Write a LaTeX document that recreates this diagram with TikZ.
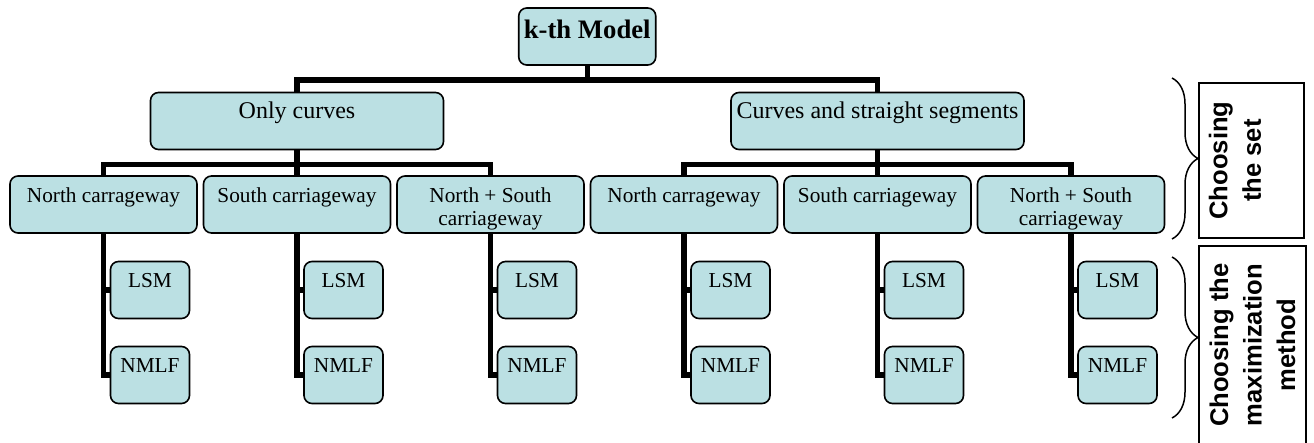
\documentclass[tikz,border=0pt]{standalone}
\usepackage{fontspec}
\setmainfont{Liberation Serif}
\setsansfont{Liberation Sans}
\usepackage{xcolor}
\usepackage{tikz}
\usetikzlibrary{positioning,calc,decorations.pathreplacing}
\definecolor{boxfill}{RGB}{187,224,227}
\newcommand{\rows}[2]{\rule{0pt}{26pt}#1\\#2\rule[-8pt]{0pt}{8pt}}
\tikzstyle{block} = [rectangle, draw, line width=1.6pt, fill=boxfill, rounded corners=8pt,
align=center, inner xsep=2pt, inner ysep=0pt, minimum width=187pt, minimum height=57pt,
font=\fontsize{21.3}{23}\selectfont]
\tikzstyle{topblock} = [block, minimum width=293pt, font=\fontsize{24}{23}\selectfont]
\tikzstyle{modelblock} = [block, minimum width=137pt, text height=30pt, text depth=27pt,
font=\bfseries\fontsize{26.7}{30}\selectfont]
\tikzstyle{leaf} = [block, minimum width=79pt, minimum height=56pt]
\tikzstyle{line} = [draw, line width=5.5pt]
\tikzstyle{stage} = [rectangle, draw, line width=1.6pt, rotate=90, align=center,
font=\sffamily\bfseries\fontsize{25.6}{33.5}\selectfont]
\tikzstyle{brace} = [draw, line width=1.5pt, decorate, decoration={brace, amplitude=26pt}]

\begin{document}
\begin{tikzpicture}[x=1pt, y=1pt, node distance=193.5pt]
	\useasboundingbox (0,0) rectangle (1314,-442);
	
	\node [block] (nc1) at (103.5,-204.5) {\rows{North carrageway}{}};
	\node [block, right of=nc1] (sc1) {\rows{South carriageway}{}};
	\node [block, right of=sc1] (ns1) {\rows{North + South}{carriageway}};
	\node [block, right of=ns1] (nc2) {\rows{North carrageway}{}};
	\node [block, right of=nc2] (sc2) {\rows{South carriageway}{}};
	\node [block, right of=sc2] (ns2) {\rows{North + South}{carriageway}};
	
	
	\node [topblock, above of=sc1, node distance=83.5pt] (only) {\rows{Only curves}{}};
	\node [topblock, above of=sc2, node distance=83.5pt] (curves) {\rows{Curves and straight segments}{}};
	\node [modelblock] (model) at ($(only)!0.5!(curves)+(0,84.5)$) {k-th Model};
	
	
	\node [leaf, below of=nc1, node distance=85.5pt, xshift=46.5pt] (lsm1) {\rows{LSM}{}};
	\node [leaf, below of=sc1, node distance=85.5pt, xshift=46.5pt] (lsm2) {\rows{LSM}{}};
	\node [leaf, below of=ns1, node distance=85.5pt, xshift=46.5pt] (lsm3) {\rows{LSM}{}};
	\node [leaf, below of=nc2, node distance=85.5pt, xshift=46.5pt] (lsm4) {\rows{LSM}{}};
	\node [leaf, below of=sc2, node distance=85.5pt, xshift=46.5pt] (lsm5) {\rows{LSM}{}};
	\node [leaf, below of=ns2, node distance=85.5pt, xshift=46.5pt] (lsm6) {\rows{LSM}{}};
	
	\node [leaf, below of=lsm1, node distance=85pt] (nmlf1) {\rows{NMLF}{}};
	\node [leaf, below of=lsm2, node distance=85pt] (nmlf2) {\rows{NMLF}{}};
	\node [leaf, below of=lsm3, node distance=85pt] (nmlf3) {\rows{NMLF}{}};
	\node [leaf, below of=lsm4, node distance=85pt] (nmlf4) {\rows{NMLF}{}};
	\node [leaf, below of=lsm5, node distance=85pt] (nmlf5) {\rows{NMLF}{}};
	\node [leaf, below of=lsm6, node distance=85pt] (nmlf6) {\rows{NMLF}{}};
	
	
	\path [line] (model.south) -- ++(0,-14) -| (only.north);
	\path [line] (model.south) -- ++(0,-14) -| (curves.north);
	
	\path [line] (only.south) -- ++(0,-14) -| (nc1.north);
	\path [line] (only.south) -- ++(0,-14) -| (sc1.north);
	\path [line] (only.south) -- ++(0,-14) -| (ns1.north);
	\path [line] (curves.south) -- ++(0,-14) -| (nc2.north);
	\path [line] (curves.south) -- ++(0,-14) -| (sc2.north);
	\path [line] (curves.south) -- ++(0,-14) -| (ns2.north);
	
	
	\path [line] (nc1.south) |- (lsm1.west);
	\path [line] (nc1.south) |- (nmlf1.west);
	\path [line] (sc1.south) |- (lsm2.west);
	\path [line] (sc1.south) |- (nmlf2.west);
	\path [line] (ns1.south) |- (lsm3.west);
	\path [line] (ns1.south) |- (nmlf3.west);
	\path [line] (nc2.south) |- (lsm4.west);
	\path [line] (nc2.south) |- (nmlf4.west);
	\path [line] (sc2.south) |- (lsm5.west);
	\path [line] (sc2.south) |- (nmlf5.west);
	\path [line] (ns2.south) |- (lsm6.west);
	\path [line] (ns2.south) |- (nmlf6.west);
	
	
	\node [stage, minimum width=155pt, minimum height=105pt] (setstage) at (1251.5,-160.5) {Choosing\\the set\\~};
	\node [stage, minimum width=198pt, minimum height=107pt] (methodstage) at (1252.5,-345) {Choosing the\\maximization\\method};
	
	\path [brace] (1172,-78) -- (1172,-239);
	\path [brace] (1172,-257) -- (1172,-418);
\end{tikzpicture}
\end{document}
